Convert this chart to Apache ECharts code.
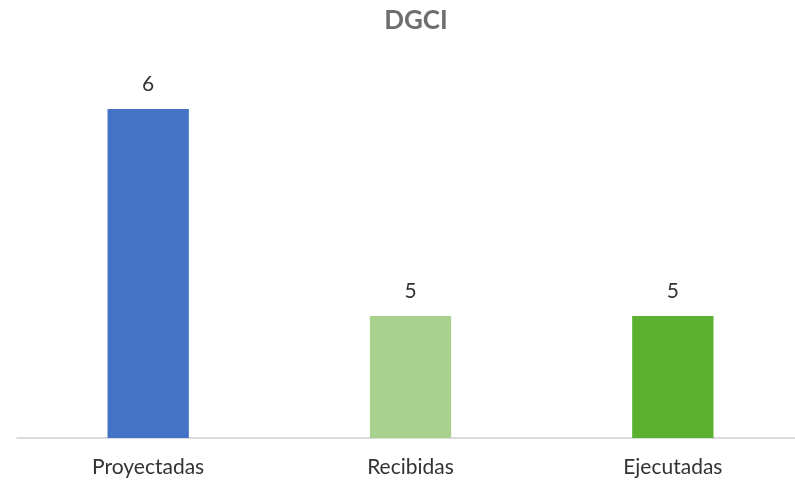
<!DOCTYPE html>
<html><head><meta charset="utf-8">
<script src="https://cdn.jsdelivr.net/npm/echarts@6/dist/echarts.min.js"></script>
<style>html,body{margin:0;padding:0;background:#fff}#c{width:795px;height:483px}</style>
</head><body><div id="c"></div>
<script>
const categories = ['Proyectadas', 'Recibidas', 'Ejecutadas'];
const values = [6, 5, 5];
const barColors = ['#4472C4', '#A9D18E', '#5BB030'];
const chart = echarts.init(document.getElementById('c'));
chart.setOption({
  animation: false,
  title: { text: 'DGCI', left: 411, top: 3, textAlign: 'center',
    textStyle: { fontFamily: 'Lato', fontSize: 26, fontWeight: 'bold', color: '#6E6E6E' } },
  grid: { left: 17, width: 787, top: 67.5, bottom: 45, containLabel: false, outerBoundsMode: 'none' },
  xAxis: { type: 'category', data: categories,
    axisLine: { show: true, lineStyle: { color: '#D0D0D0', width: 1.5 } },
    axisTick: { show: false },
    axisLabel: { fontFamily: 'Lato', fontSize: 21, color: '#333333', margin: 19 } },
  yAxis: { type: 'value', min: 4.41, max: 6.2, show: false, splitLine: { show: false } },
  series: [{ type: 'bar', barWidth: '31%',
    data: values.map((v, i) => ({ value: v, itemStyle: { color: barColors[i] } })),
    label: { show: true, position: 'top', distance: 14, fontFamily: 'Lato', fontSize: 21, color: '#333333' } }]
});
</script></body></html>
